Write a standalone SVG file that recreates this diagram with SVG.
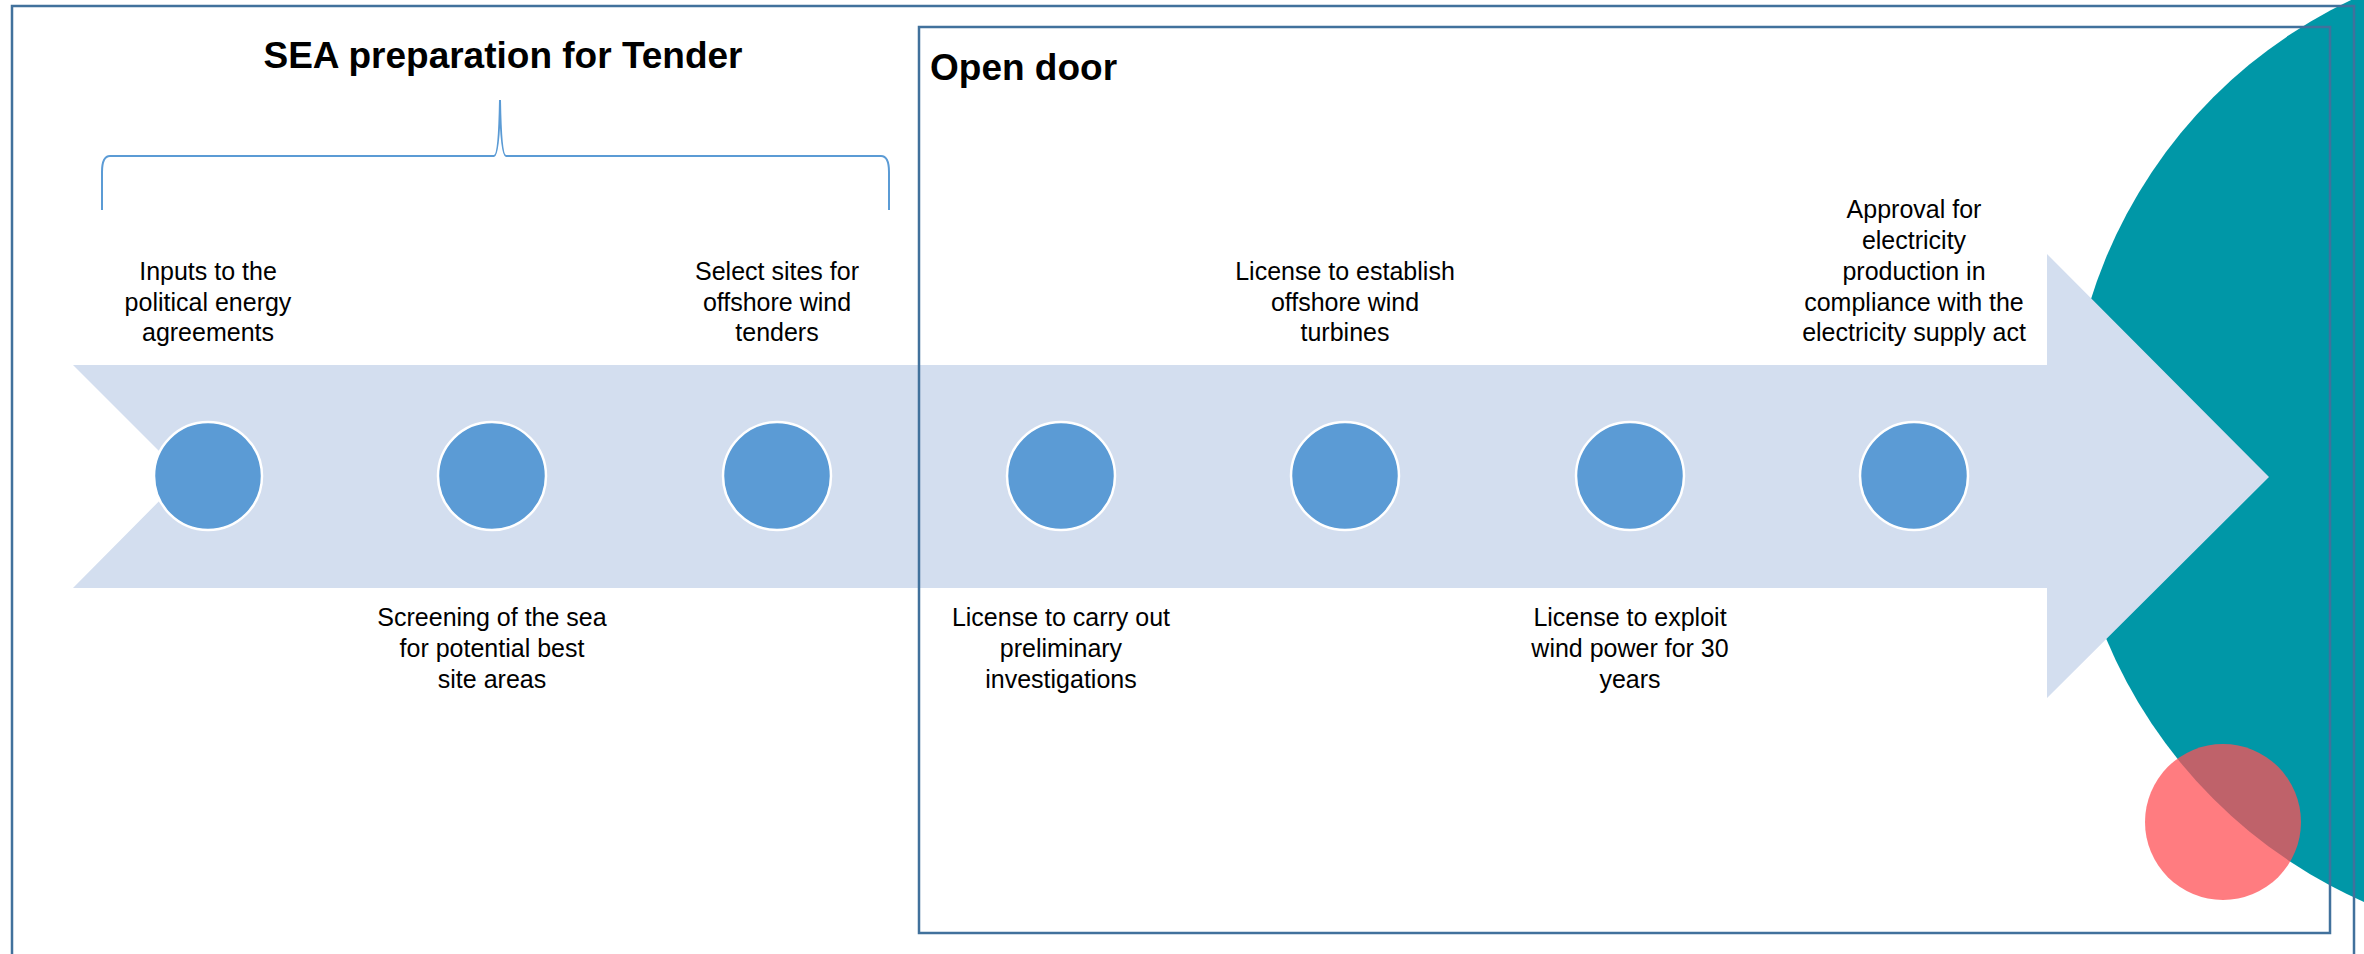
<svg xmlns="http://www.w3.org/2000/svg" width="2364" height="954" viewBox="0 0 2364 954">
  <style>
    .lbl { font-family: "Liberation Sans", Arial, sans-serif; font-size: 25px; fill: #000; text-anchor: middle; }
    .ttl { font-family: "Liberation Sans", Arial, sans-serif; font-size: 37px; font-weight: bold; fill: #000; }
    .dot { fill: #5B9BD5; stroke: #FFFFFF; stroke-width: 2.5; }
    .frame { fill: none; stroke: #41719C; stroke-width: 2.5; }
  </style>
  <rect x="0" y="0" width="2364" height="954" fill="#FFFFFF"/>

  <g id="decor">
    <circle cx="2564" cy="448" r="496" fill="#0097A7"/>
  </g>

  <g id="timeline-arrow">
    <polygon points="73,365 2047,365 2047,254 2269,477 2047,698 2047,588 73,588 184,476" fill="#D3DEEF"/>
  </g>

  <g id="connectors">
    <path d="M102,210 L102,172 Q102,156 110,156 L494,156 Q499,156 500,100 Q501,156 506,156 L881,156 Q889,156 889,172 L889,210" fill="none" stroke="#5B9BD5" stroke-width="2"/>
  </g>

  <g id="milestones">
    <circle class="dot" cx="208" cy="476" r="54"/>
    <circle class="dot" cx="492" cy="476" r="54"/>
    <circle class="dot" cx="777" cy="476" r="54"/>
    <circle class="dot" cx="1061" cy="476" r="54"/>
    <circle class="dot" cx="1345" cy="476" r="54"/>
    <circle class="dot" cx="1630" cy="476" r="54"/>
    <circle class="dot" cx="1914" cy="476" r="54"/>
  </g>

  <g id="red-dot">
    <circle cx="2223" cy="822" r="78" fill="#FF5055" fill-opacity="0.75"/>
  </g>

  <g id="frames">
    <rect class="frame" x="12" y="6" width="2342" height="960"/>
    <rect id="open-door-box" class="frame" x="919" y="27" width="1411" height="906"/>
  </g>

  <g id="titles">
    <text class="ttl" x="503" y="68" text-anchor="middle">SEA preparation for Tender</text>
    <text class="ttl" x="930" y="80">Open door</text>
  </g>

  <g id="node-inputs">
    <text class="lbl"><tspan x="208" y="280">Inputs to the</tspan><tspan x="208" y="311">political energy</tspan><tspan x="208" y="341">agreements</tspan></text>
  </g>
  <g id="node-screening">
    <text class="lbl"><tspan x="492" y="626">Screening of the sea</tspan><tspan x="492" y="657">for potential best</tspan><tspan x="492" y="688">site areas</tspan></text>
  </g>
  <g id="node-select">
    <text class="lbl"><tspan x="777" y="280">Select sites for</tspan><tspan x="777" y="311">offshore wind</tspan><tspan x="777" y="341">tenders</tspan></text>
  </g>
  <g id="node-prelim">
    <text class="lbl"><tspan x="1061" y="626">License to carry out</tspan><tspan x="1061" y="657">preliminary</tspan><tspan x="1061" y="688">investigations</tspan></text>
  </g>
  <g id="node-establish">
    <text class="lbl"><tspan x="1345" y="280">License to establish</tspan><tspan x="1345" y="311">offshore wind</tspan><tspan x="1345" y="341">turbines</tspan></text>
  </g>
  <g id="node-exploit">
    <text class="lbl"><tspan x="1630" y="626">License to exploit</tspan><tspan x="1630" y="657">wind power for 30</tspan><tspan x="1630" y="688">years</tspan></text>
  </g>
  <g id="node-approval">
    <text class="lbl"><tspan x="1914" y="218">Approval for</tspan><tspan x="1914" y="249">electricity</tspan><tspan x="1914" y="280">production in</tspan><tspan x="1914" y="311">compliance with the</tspan><tspan x="1914" y="341">electricity supply act</tspan></text>
  </g>
</svg>
